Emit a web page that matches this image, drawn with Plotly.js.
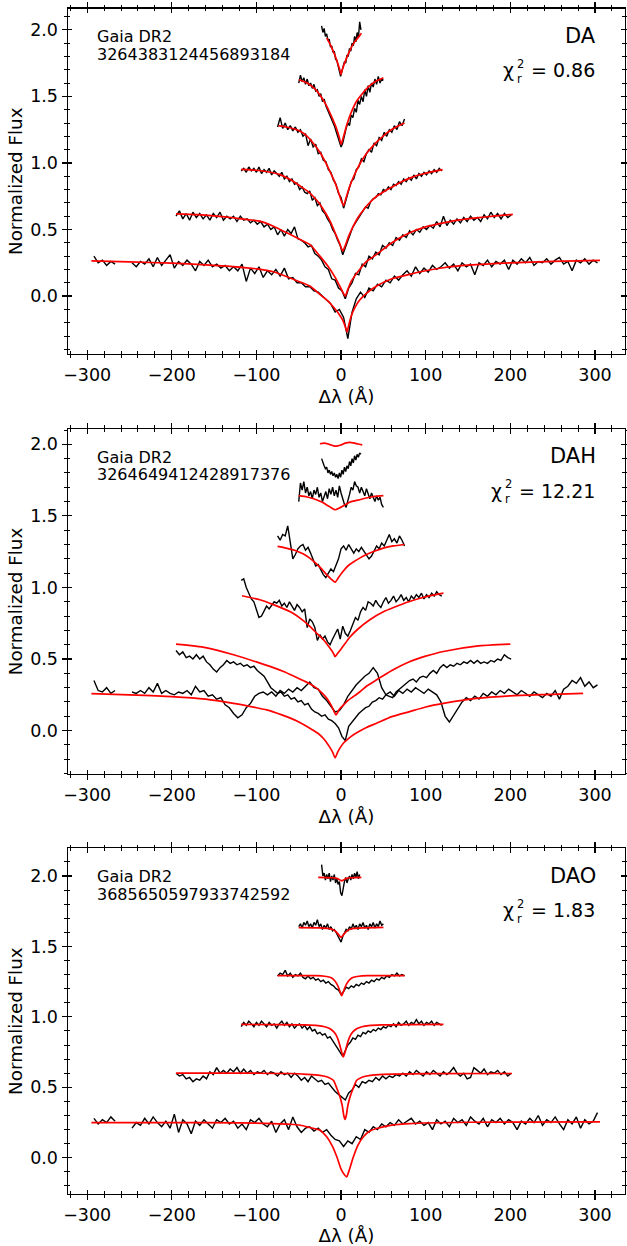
<!DOCTYPE html>
<html><head><meta charset="utf-8">
<script src="https://cdn.plot.ly/plotly-3.0.1.min.js"></script>
<style>html,body{margin:0;padding:0;background:#fff}#chart{width:627px;height:1246px}</style>
</head><body><div id="chart"></div>
<script>
// ---------- DATA ----------
// wavelength sampling of each observed spectrum: [start, step] in Angstrom offset
const DA_grid  = [[-292,5],[-195,4],[-118,3],[-75,3],[-50,2],[-23,1.5]];
const DAH_grid = [[-292,5],[-195,4],[-118,3],[-75,3],[-50,2],[-23,1.5]];
const DAO_grid = [[-292,5],[-195,4],[-118,3],[-75,3],[-50,2],[-23,1.5]];

// ---- DA (Gaia DR2 3264383124456893184) observed fluxes ----
const DA_b1 = [0.30,0.25,0.27,0.23,0.26,0.24,null,null,null,0.25,
 0.22,0.26,0.24,0.28,0.22,0.29,0.23,0.27,0.31,0.21,
 0.26,0.23,0.27,0.24,0.19,0.26,0.23,0.27,0.22,0.24,
 0.21,0.23,0.19,0.22,0.19,0.24,0.11,0.21,0.17,0.22,
 0.14,0.19,0.16,0.20,0.15,0.21,0.13,0.14,0.10,0.10,
 0.07,0.07,0.04,0.03,0.00,-0.03,-0.06,-0.12,-0.10,-0.16,
 -0.32,-0.12,-0.02,0.03,-0.01,0.06,0.04,0.09,0.07,0.12,
 0.10,0.15,0.12,0.16,0.19,0.15,0.22,0.17,0.21,0.18,
 0.23,0.20,0.22,0.25,0.21,0.24,0.19,0.25,0.22,0.24,
 0.16,0.25,0.23,0.27,0.22,0.26,0.24,0.27,0.20,0.27,
 0.24,0.28,0.25,0.29,0.23,0.26,0.25,0.28,0.24,0.27,
 0.29,0.24,0.26,0.19,0.27,0.25,0.28,0.24,0.27,0.25];
const DA_b2 = [0.60,0.64,0.58,0.62,0.57,0.63,0.59,0.62,0.58,0.61,
 0.57,0.62,0.59,0.63,0.57,0.60,0.58,0.60,0.56,0.60,
 0.57,0.58,0.55,0.57,0.54,0.56,0.52,0.54,0.50,0.52,
 0.46,0.50,0.45,0.50,0.47,0.52,0.43,0.42,0.40,0.37,
 0.38,0.32,0.30,0.27,0.22,0.20,0.13,0.12,0.06,0.04,
 -0.02,0.06,0.10,0.17,0.16,0.24,0.22,0.30,0.28,0.33,
 0.31,0.38,0.36,0.40,0.38,0.44,0.42,0.46,0.44,0.49,
 0.46,0.50,0.48,0.52,0.50,0.53,0.51,0.56,0.52,0.60,
 0.53,0.57,0.54,0.58,0.55,0.59,0.56,0.60,0.57,0.59,
 0.56,0.61,0.58,0.63,0.59,0.62,0.58,0.62,0.59,0.61];
const DA_b3 = [0.94,0.96,0.93,0.97,0.94,0.96,0.93,0.97,0.92,0.95,
 0.93,0.96,0.91,0.94,0.92,0.90,0.93,0.88,0.90,0.86,
 0.88,0.84,0.85,0.80,0.82,0.78,0.77,0.79,0.72,0.74,
 0.68,0.70,0.64,0.62,0.58,0.55,0.50,0.47,0.42,0.38,
 0.31,0.36,0.42,0.47,0.52,0.55,0.58,0.62,0.64,0.67,
 0.66,0.71,0.73,0.74,0.77,0.76,0.80,0.79,0.82,0.80,
 0.84,0.83,0.86,0.84,0.88,0.86,0.89,0.87,0.91,0.88,
 0.92,0.90,0.93,0.91,0.94,0.92,0.95,0.93,0.96,0.94];
const DA_b4 = [1.27,1.34,1.26,1.30,1.25,1.28,1.24,1.27,1.23,1.25,
 1.20,1.22,1.13,1.18,1.12,1.14,1.07,1.08,1.02,1.01,
 0.95,0.93,0.87,0.84,0.77,0.74,0.66,0.73,0.80,0.86,
 0.88,0.95,0.97,1.03,1.01,1.07,1.10,1.08,1.15,1.13,
 1.19,1.17,1.23,1.20,1.25,1.23,1.28,1.25,1.31,1.28,1.33];
const DA_b5 = [1.60,1.66,1.61,1.64,1.59,1.63,1.58,1.60,1.56,1.59,
 1.54,1.55,1.50,1.52,1.46,1.48,1.43,1.40,1.38,1.34,
 1.31,1.28,1.24,1.20,1.17,1.12,1.15,1.21,1.26,1.30,
 1.28,1.36,1.34,1.41,1.38,1.47,1.44,1.50,1.46,1.55,
 1.50,1.58,1.53,1.60,1.57,1.63,1.59,1.65,1.60,1.63,1.62];
const DA_b6 = [2.03,1.98,2.01,1.95,1.97,1.92,1.93,1.87,1.88,1.83,
 1.84,1.78,1.77,1.73,1.70,1.65,1.69,1.72,1.76,1.75,
 1.81,1.80,1.86,1.84,1.90,1.88,1.95,1.91,1.98,1.94,2.06,2.00];
// ---- DA model fits ----
const DA_r1x = [-295,-250,-200,-160,-128,-100,-80,-64,-50,-37,-25,-15,-8,-3,2,5,7,9,12,16,22,30,42,60,81,100,121,150,200,250,306];
const DA_r1y = [0.265,0.257,0.247,0.235,0.222,0.205,0.183,0.145,0.11,0.075,0.013,-0.04,-0.09,-0.13,-0.18,-0.23,-0.27,-0.22,-0.15,-0.09,-0.03,0.02,0.075,0.13,0.163,0.19,0.213,0.232,0.25,0.26,0.268];
const DA_r2x = [-195,-170,-150,-130,-110,-96,-80,-64,-50,-37,-25,-15,-7,-2,2,5,8,12,16,22,30,42,60,81,100,121,140,160,180,203];
const DA_r2y = [0.618,0.612,0.603,0.59,0.574,0.563,0.525,0.475,0.43,0.388,0.30,0.22,0.14,0.08,0.03,0.0,0.05,0.11,0.15,0.2,0.26,0.313,0.4,0.475,0.52,0.55,0.572,0.588,0.6,0.613];
const DA_r3x = [-118,-100,-85,-72,-60,-48,-40,-33,-25,-18,-12,-6,-2,2,5,9,14,20,28,35,42,52,62,72,82,95,108,120];
const DA_r3y = [0.952,0.945,0.932,0.912,0.875,0.825,0.79,0.75,0.69,0.62,0.55,0.46,0.4,0.34,0.38,0.45,0.52,0.59,0.66,0.71,0.75,0.79,0.825,0.86,0.888,0.915,0.935,0.95];
const DA_r4x = [-74,-65,-55,-48,-40,-33,-25,-18,-12,-7,-3,0,3,6,10,15,22,30,38,46,55,65,75];
const DA_r4y = [1.28,1.27,1.255,1.238,1.2,1.15,1.08,1.0,0.92,0.85,0.78,0.72,0.68,0.74,0.82,0.9,0.99,1.07,1.13,1.18,1.23,1.27,1.3];
const DA_r5x = [-50,-40,-30,-25,-18,-12,-6,-2,0,3,7,12,18,25,32,40,50];
const DA_r5y = [1.625,1.6,1.55,1.51,1.44,1.36,1.27,1.19,1.14,1.2,1.29,1.38,1.46,1.52,1.57,1.61,1.64];
const DA_r6x = [-17,-12,-8,-5,-3,-1,0,1,3,6,10,15,20,24];
const DA_r6y = [1.94,1.88,1.82,1.77,1.73,1.69,1.665,1.69,1.73,1.78,1.84,1.9,1.94,1.975];

// ---- DAH (Gaia DR2 3264649412428917376) observed fluxes ----
const DAH_b1 = [0.35,0.28,0.27,0.30,0.26,0.28,null,null,null,0.27,
 0.26,0.28,0.26,0.30,0.27,0.33,0.26,0.28,0.26,0.25,
 0.27,0.26,0.28,0.25,0.31,0.27,0.28,0.24,0.25,0.22,
 0.23,0.18,0.16,0.12,0.09,0.11,0.16,0.19,0.24,0.26,
 0.27,0.25,0.27,0.24,0.28,0.26,0.29,0.27,0.30,0.28,
 0.31,0.34,0.30,0.29,0.24,0.21,0.17,0.13,0.14,0.18,
 0.24,0.28,0.32,0.35,0.38,0.40,0.44,0.40,0.30,0.25,
 0.27,0.24,0.28,0.26,0.29,0.27,0.30,0.28,0.26,0.29,
 0.27,0.25,0.20,0.10,0.06,0.11,0.16,0.20,0.23,0.21,
 0.24,0.22,0.26,0.24,0.27,0.25,0.28,0.26,0.29,0.27,
 0.25,0.28,0.26,0.24,0.27,0.25,0.23,0.26,0.24,0.28,
 0.22,0.29,0.31,0.35,0.33,0.37,0.31,0.34,0.30,0.32];
const DAH_b2 = [0.56,0.53,0.55,0.51,0.52,0.50,0.53,0.50,0.52,0.48,
 0.46,0.43,0.41,0.44,0.46,0.49,0.47,0.48,0.46,0.47,
 0.45,0.46,0.44,0.45,0.42,0.40,0.38,0.34,0.30,0.28,
 0.26,0.27,0.24,0.25,0.22,0.23,0.20,0.21,0.18,0.19,
 0.15,0.13,0.12,0.10,0.11,0.08,0.07,0.05,0.02,-0.04,
 -0.07,0.03,0.06,0.09,0.12,0.14,0.16,0.17,0.20,0.21,
 0.23,0.22,0.25,0.24,0.23,0.27,0.29,0.31,0.33,0.35,
 0.36,0.34,0.37,0.38,0.37,0.40,0.42,0.40,0.44,0.46,
 0.44,0.46,0.45,0.47,0.46,0.48,0.47,0.49,0.47,0.49,
 0.47,0.48,0.47,0.49,0.48,0.50,0.49,0.53,0.51,0.50];
const DAH_b3 = [1.05,1.06,1.00,0.96,0.92,0.90,0.84,0.79,0.80,0.84,
 0.87,0.85,0.88,0.90,0.89,0.91,0.87,0.89,0.86,0.90,
 0.87,0.84,0.88,0.86,0.83,0.85,0.72,0.78,0.76,0.72,
 0.63,0.67,0.64,0.66,0.62,0.60,0.64,0.67,0.71,0.64,
 0.73,0.68,0.66,0.70,0.74,0.79,0.77,0.83,0.86,0.84,
 0.90,0.89,0.87,0.91,0.88,0.86,0.90,0.93,0.89,0.91,
 0.94,0.90,0.92,0.95,0.91,0.93,0.90,0.94,0.92,0.95,
 0.93,0.96,0.92,0.95,0.93,0.96,0.94,0.97,0.95,0.94];
const DAH_b4 = [1.36,1.33,1.37,1.36,1.43,1.30,1.20,1.23,1.27,1.29,
 1.30,1.26,1.28,1.24,1.20,1.15,1.16,1.12,1.09,1.07,
 1.10,1.13,1.11,1.15,1.20,1.27,1.29,1.26,1.30,1.27,
 1.24,1.27,1.25,1.28,1.25,1.23,1.20,1.22,1.26,1.29,
 1.27,1.31,1.29,1.33,1.37,1.32,1.34,1.31,1.36,1.33,1.29];
const DAH_b5 = [1.60,1.73,1.68,1.74,1.66,1.70,1.64,1.67,1.62,1.68,
 1.65,1.70,1.63,1.66,1.60,1.64,1.67,1.62,1.69,1.65,
 1.70,1.64,1.68,1.63,1.71,1.66,1.62,1.58,1.56,1.60,
 1.65,1.70,1.68,1.74,1.71,1.70,1.66,1.70,1.67,1.64,
 1.69,1.65,1.62,1.66,1.63,1.60,1.64,1.61,1.63,1.58,1.56];
const DAH_b6 = [1.90,1.87,1.85,1.83,1.84,1.80,1.82,1.79,1.81,1.78,
 1.80,1.77,1.79,1.76,1.80,1.77,1.82,1.79,1.84,1.81,
 1.85,1.83,1.88,1.85,1.90,1.87,1.92,1.89,1.93,1.91,1.94,1.93];
// ---- DAH model fits ----
const DAH_r1x = [-295,-250,-200,-160,-127,-100,-88,-70,-55,-45,-35,-27,-20,-14,-10,-7,-4,0,2.7,5,12,20,30,42,60,81,100,121,160,200,240,286];
const DAH_r1y = [0.258,0.25,0.238,0.22,0.19,0.16,0.145,0.11,0.075,0.045,0.01,-0.02,-0.06,-0.11,-0.15,-0.19,-0.15,-0.11,-0.088,-0.075,-0.04,-0.01,0.022,0.052,0.098,0.133,0.165,0.19,0.225,0.243,0.252,0.26];
const DAH_r2x = [-195,-160,-127,-100,-80,-68,-55,-45,-37,-29,-22,-16,-11,-6,-2,3,8,14.6,22,30,42,60,81.5,100,121,160,200];
const DAH_r2y = [0.604,0.58,0.53,0.48,0.44,0.413,0.378,0.35,0.328,0.297,0.26,0.22,0.17,0.11,0.15,0.18,0.21,0.238,0.27,0.31,0.355,0.42,0.483,0.52,0.553,0.59,0.604];
const DAH_r3x = [-117,-96,-80,-60,-45,-36.6,-28.7,-20,-13,-9,-7,-4,0,5,10,20,34,50,62,80,100,121];
const DAH_r3y = [0.942,0.914,0.88,0.83,0.77,0.727,0.68,0.63,0.575,0.54,0.517,0.54,0.57,0.61,0.65,0.71,0.775,0.83,0.86,0.9,0.935,0.96];
const DAH_r4x = [-75,-65,-55,-45,-37,-30,-23,-17,-12,-7,-3,2,8,15,22,30,40,50,62,75];
const DAH_r4y = [1.287,1.275,1.26,1.235,1.205,1.17,1.13,1.09,1.06,1.037,1.07,1.11,1.15,1.18,1.205,1.23,1.255,1.275,1.29,1.3];
const DAH_r5x = [-50,-40,-30,-22,-16,-12,-7,-2,4,10,16,22,30,40,50];
const DAH_r5y = [1.641,1.632,1.615,1.595,1.572,1.558,1.543,1.555,1.575,1.595,1.605,1.613,1.625,1.636,1.641];
const DAH_r6x = [-25,-20,-14,-7,0,5,10,16,20,25];
const DAH_r6y = [2.004,2.008,2.0,1.987,1.995,2.008,2.013,2.008,2.002,1.996];

// ---- DAO (Gaia DR2 3685650597933742592) observed fluxes ----
const DAO_b1 = [0.28,0.24,0.27,0.25,0.29,0.26,null,null,null,0.21,
 0.25,0.23,0.28,0.24,0.29,0.25,0.22,0.26,0.21,0.31,
 0.18,0.27,0.24,0.17,0.26,0.23,0.27,0.24,0.21,0.27,
 0.25,0.28,0.24,0.26,0.21,0.24,0.20,0.27,0.25,0.28,
 0.24,0.22,0.26,0.18,0.24,0.27,0.20,0.29,0.22,0.18,
 0.21,0.22,0.19,0.21,0.18,0.20,0.16,0.13,0.12,0.08,
 0.12,0.10,0.15,0.13,0.20,0.18,0.22,0.20,0.24,0.22,
 0.25,0.23,0.27,0.24,0.26,0.28,0.24,0.26,0.23,0.25,
 0.20,0.27,0.24,0.26,0.22,0.28,0.25,0.27,0.23,0.29,
 0.26,0.24,0.28,0.22,0.27,0.25,0.28,0.24,0.27,0.25,
 0.20,0.26,0.24,0.28,0.25,0.30,0.23,0.27,0.25,0.29,
 0.24,0.20,0.27,0.24,0.29,0.21,0.27,0.24,0.26,0.32];
const DAO_b2 = [0.60,0.58,0.59,0.56,0.57,0.54,0.56,0.55,0.58,0.56,
 0.61,0.59,0.64,0.60,0.62,0.60,0.63,0.61,0.64,0.60,
 0.63,0.60,0.62,0.59,0.61,0.60,0.62,0.59,0.61,0.60,
 0.58,0.61,0.59,0.60,0.57,0.60,0.58,0.55,0.57,0.54,
 0.58,0.56,0.54,0.55,0.52,0.53,0.50,0.47,0.45,0.43,
 0.41,0.46,0.48,0.52,0.50,0.54,0.53,0.55,0.54,0.57,
 0.55,0.58,0.56,0.58,0.57,0.59,0.58,0.60,0.58,0.61,
 0.59,0.62,0.60,0.58,0.61,0.59,0.62,0.60,0.58,0.61,
 0.59,0.61,0.64,0.60,0.58,0.60,0.56,0.57,0.64,0.62,
 0.60,0.63,0.59,0.61,0.60,0.62,0.59,0.61,0.58,0.60];
const DAO_b3 = [0.93,0.96,0.94,0.97,0.95,0.93,0.96,0.94,0.97,0.95,
 0.93,0.96,0.94,0.95,0.92,0.95,0.97,0.94,0.96,0.93,
 0.95,0.92,0.94,0.95,0.92,0.94,0.91,0.93,0.90,0.91,
 0.88,0.89,0.87,0.88,0.85,0.86,0.83,0.81,0.78,0.75,
 0.72,0.76,0.80,0.82,0.85,0.84,0.87,0.86,0.89,0.88,
 0.90,0.89,0.91,0.90,0.92,0.91,0.93,0.92,0.94,0.93,
 0.95,0.93,0.96,0.94,0.95,0.97,0.94,0.96,0.95,0.98,
 0.95,0.97,0.94,0.96,0.95,0.97,0.94,0.96,0.95,0.94];
const DAO_b4 = [1.29,1.31,1.30,1.33,1.29,1.31,1.28,1.30,1.29,1.31,
 1.28,1.27,1.29,1.27,1.28,1.26,1.27,1.25,1.26,1.24,
 1.25,1.23,1.22,1.20,1.19,1.16,1.18,1.21,1.20,1.22,
 1.21,1.23,1.22,1.24,1.23,1.25,1.24,1.26,1.25,1.27,
 1.26,1.28,1.27,1.29,1.28,1.30,1.29,1.31,1.29,1.30,1.29];
const DAO_b5 = [1.64,1.66,1.63,1.67,1.65,1.68,1.64,1.66,1.63,1.67,
 1.65,1.69,1.64,1.66,1.62,1.65,1.63,1.66,1.62,1.64,
 1.61,1.62,1.60,1.58,1.56,1.53,1.57,1.60,1.62,1.61,
 1.64,1.62,1.66,1.63,1.65,1.62,1.66,1.64,1.67,1.63,
 1.65,1.62,1.66,1.64,1.67,1.63,1.66,1.64,1.68,1.65,1.66];
const DAO_b6 = [2.08,2.00,2.02,1.97,2.01,1.98,2.02,1.96,2.00,1.97,
 2.01,1.95,1.98,1.94,1.96,1.88,1.86,1.93,1.96,1.99,
 1.95,1.98,2.00,1.97,2.01,1.98,2.02,1.99,2.03,1.98,2.01];
// ---- DAO model fits ----
const DAO_r1x = [-295,-200,-120,-80,-60,-48,-37,-25,-17,-10,-5,0,4,6.7,9,14.6,20,26.4,34,42,60,81.5,150,306];
const DAO_r1y = [0.25,0.25,0.248,0.243,0.238,0.231,0.215,0.196,0.149,0.08,0.007,-0.08,-0.12,-0.135,-0.1,0.007,0.09,0.149,0.19,0.208,0.232,0.243,0.252,0.255];
const DAO_r2x = [-195,-100,-60,-40.3,-25.3,-15.3,-9.1,-4.8,-1.2,1.4,3.2,4.7,6.2,8,10.6,14.2,18.5,24.7,34.7,49.7,100,202];
const DAO_r2y = [0.6,0.6,0.598,0.592,0.585,0.572,0.55,0.49,0.432,0.37,0.3,0.272,0.3,0.37,0.432,0.49,0.55,0.572,0.585,0.592,0.597,0.598];
const DAO_r3x = [-118,-80,-42.3,-27.3,-19.3,-13,-8.8,-5.8,-3.2,-1.1,0.9,2.7,4.5,6.5,8.6,11.2,14.2,18.4,24.7,32.7,47.7,80,121];
const DAO_r3y = [0.946,0.945,0.943,0.938,0.93,0.916,0.895,0.87,0.833,0.79,0.745,0.715,0.745,0.79,0.833,0.87,0.895,0.916,0.93,0.938,0.943,0.945,0.946];
const DAO_r4x = [-75,-45,-29.2,-19.2,-13.2,-10.2,-7.7,-5,-2.7,-1,0.8,2.6,4.3,6.6,9.3,11.8,14.8,20.8,30.8,45,75];
const DAO_r4y = [1.293,1.293,1.292,1.288,1.281,1.272,1.258,1.234,1.205,1.175,1.151,1.175,1.205,1.234,1.258,1.272,1.281,1.288,1.292,1.293,1.293];
const DAO_r5x = [-50,-25,-15,-10,-7,-5,-3,-1.5,0,1.5,3,5,7,10,15,25,50];
const DAO_r5y = [1.633,1.632,1.628,1.62,1.61,1.598,1.585,1.572,1.564,1.572,1.585,1.598,1.61,1.62,1.628,1.632,1.635];
const DAO_r6x = [-27,-10,-5,-3,-1,0.8,2.6,4.6,6.6,11.6,24];
const DAO_r6y = [1.989,1.987,1.983,1.977,1.97,1.965,1.97,1.977,1.983,1.987,1.989];

// labels
const starIds = ['3264383124456893184','3264649412428917376','3685650597933742592'];
const classes = ['DA','DAH','DAO'];
const chi2 = ['0.86','12.21','1.83'];

// ---------- BUILD ----------
function grid(g, n){ const a=[]; for(let i=0;i<n;i++) a.push(Math.round((g[0]+i*g[1])*100)/100); return a; }

const panels = [
  {grids: DA_grid, blacks:[DA_b1,DA_b2,DA_b3,DA_b4,DA_b5,DA_b6],
   reds:[[DA_r1x,DA_r1y],[DA_r2x,DA_r2y],[DA_r3x,DA_r3y],[DA_r4x,DA_r4y],[DA_r5x,DA_r5y],[DA_r6x,DA_r6y]]},
  {grids: DAH_grid, blacks:[DAH_b1,DAH_b2,DAH_b3,DAH_b4,DAH_b5,DAH_b6],
   reds:[[DAH_r1x,DAH_r1y],[DAH_r2x,DAH_r2y],[DAH_r3x,DAH_r3y],[DAH_r4x,DAH_r4y],[DAH_r5x,DAH_r5y],[DAH_r6x,DAH_r6y]]},
  {grids: DAO_grid, blacks:[DAO_b1,DAO_b2,DAO_b3,DAO_b4,DAO_b5,DAO_b6],
   reds:[[DAO_r1x,DAO_r1y],[DAO_r2x,DAO_r2y],[DAO_r3x,DAO_r3y],[DAO_r4x,DAO_r4y],[DAO_r5x,DAO_r5y],[DAO_r6x,DAO_r6y]]}
];

const W = 627, H = 1246;
const XDOM = [67.7/W, 625/W];
const PTOP = [8.5, 429, 848.3], PBOT = [354, 774, 1194];
const YR = [[-0.435,2.16],[-0.303,2.107],[-0.257,2.196]];
const XR = [-323, 335.5];
const FONT = 'DejaVu Sans, Liberation Sans, sans-serif';

const traces = [];
panels.forEach((p, i) => {
  const xa = i===0 ? 'x' : 'x'+(i+1), ya = i===0 ? 'y' : 'y'+(i+1);
  p.blacks.forEach((b, j) => {
    traces.push({x: grid(p.grids[j], b.length), y: b, xaxis: xa, yaxis: ya, type: 'scatter', mode: 'lines',
      line: {color: '#000000', width: 1.4}, connectgaps: false, hoverinfo: 'skip', showlegend: false});
  });
  p.reds.forEach(r => {
    traces.push({x: r[0], y: r[1], xaxis: xa, yaxis: ya, type: 'scatter', mode: 'lines',
      line: {color: '#ff0000', width: 1.7, shape: 'spline', smoothing: 0.6}, hoverinfo: 'skip', showlegend: false});
  });
  // empty trace to host the inward-tick overlay axes
  traces.push({x: [], y: [], xaxis: 'x'+(i+4), yaxis: 'y'+(i+4), type: 'scatter', mode: 'lines', showlegend: false, hoverinfo: 'skip'});
});

const layout = {
  width: W, height: H, margin: {l:0, r:0, t:0, b:0},
  paper_bgcolor: '#ffffff', plot_bgcolor: 'rgba(0,0,0,0)',
  font: {family: FONT, color: '#000000', size: 17.5},
  showlegend: false, annotations: []
};

function ann(text, px, py, size, xanchor){
  return {text: text, x: px/W, y: 1 - py/H, xref: 'paper', yref: 'paper', xanchor: xanchor, yanchor: 'middle',
    align: xanchor, showarrow: false, borderpad: 0, font: {family: FONT, size: size, color: '#000000'}};
}

const chiX = [515, 503, 515];
for (let i = 0; i < 3; i++) {
  const dom = [1 - PBOT[i]/H, 1 - PTOP[i]/H];
  const sx = i===0 ? '' : String(i+1);
  const xa = 'xaxis'+sx, ya = 'yaxis'+sx;
  layout[xa] = {domain: XDOM, range: XR, anchor: 'y'+sx, showline: true, linecolor: '#000', linewidth: 1.2,
    mirror: 'allticks', ticks: 'outside', ticklen: 5, tickwidth: 1.2, tickcolor: '#000', tick0: 0, dtick: 100,
    minor: {tick0: 0, dtick: 20, ticks: 'outside', ticklen: 2.6, tickwidth: 1, tickcolor: '#000'},
    showgrid: false, zeroline: false, tickfont: {size: 17.5}, fixedrange: true,
    title: {text: 'Δλ (Å)', font: {size: 18.3}, standoff: 6}};
  layout[ya] = {domain: dom, range: YR[i], anchor: 'x'+sx, showline: true, linecolor: '#000', linewidth: 1.2,
    mirror: 'allticks', ticks: 'outside', ticklen: 5, tickwidth: 1.2, tickcolor: '#000', tick0: 0, dtick: 0.5,
    tickformat: '.1f', minor: {tick0: 0, dtick: 0.1, ticks: 'outside', ticklen: 2.6, tickwidth: 1, tickcolor: '#000'},
    showgrid: false, zeroline: false, tickfont: {size: 17.5}, fixedrange: true,
    title: {text: 'Normalized Flux', font: {size: 18.3}, standoff: 2.5}};
  // overlay axes carrying the inward halves of the ticks
  const ox = 'xaxis'+(i+4), oy = 'yaxis'+(i+4);
  layout[ox] = {overlaying: i===0 ? 'x' : 'x'+(i+1), anchor: 'y'+(i+4), range: XR, showline: false,
    mirror: 'allticks', ticks: 'inside', ticklen: 4.5, tickwidth: 1.2, tickcolor: '#000', tick0: 0, dtick: 100,
    minor: {tick0: 0, dtick: 20, ticks: 'inside', ticklen: 2.6, tickwidth: 1, tickcolor: '#000'},
    showticklabels: false, showgrid: false, zeroline: false, fixedrange: true};
  layout[oy] = {overlaying: i===0 ? 'y' : 'y'+(i+1), anchor: 'x'+(i+4), range: YR[i], showline: false,
    mirror: 'allticks', ticks: 'inside', ticklen: 4.5, tickwidth: 1.2, tickcolor: '#000', tick0: 0, dtick: 0.5,
    minor: {tick0: 0, dtick: 0.1, ticks: 'inside', ticklen: 2.6, tickwidth: 1, tickcolor: '#000'},
    showticklabels: false, showgrid: false, zeroline: false, fixedrange: true};

  const off = PTOP[i] - 8.5;
  layout.annotations.push(ann('Gaia DR2', 96, 36.5 + off, 16, 'left'));
  layout.annotations.push(ann(starIds[i], 96, 54.2 + off, 16, 'left'));
  layout.annotations.push(ann(classes[i], 597, 35.8 + off, 21, 'right'));
  layout.annotations.push(ann('= ' + chi2[i], 596, 70.3 + off, 19, 'right'));
  layout.annotations.push(ann('χ', chiX[i], 70.3 + off, 19, 'right'));
  // stacked super/subscript of chi: "2" above "r"
  layout.annotations.push(ann('2<br>r', chiX[i] + 1, 71.5 + off, 11.5, 'left'));
}

Plotly.newPlot('chart', traces, layout, {staticPlot: true, displayModeBar: false});
</script>
</body></html>
